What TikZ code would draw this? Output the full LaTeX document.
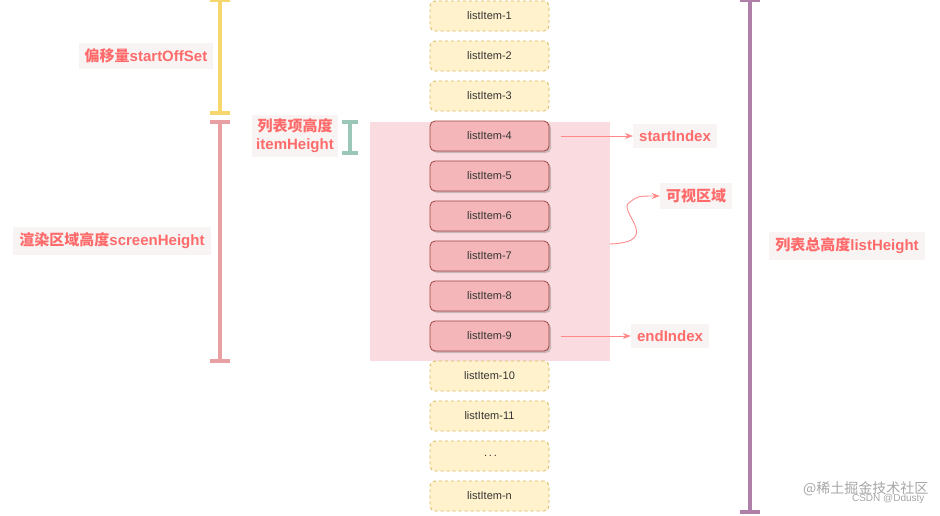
\documentclass[tikz,border=0pt]{standalone}
\usepackage{fontspec}
\setmainfont{Liberation Sans}
\newfontfamily\cjk{Noto Sans CJK SC}
\usetikzlibrary{shadows,arrows.meta}
\definecolor{yf}{HTML}{FFF2CC}\definecolor{ys}{HTML}{D6B656}
\definecolor{rf}{HTML}{F4B6B8}\definecolor{rs}{HTML}{A0443F}
\definecolor{lab}{HTML}{FF6B6B}\definecolor{zone}{HTML}{FADCE0}
\definecolor{lbg}{HTML}{F8F4F4}
\tikzset{x=1pt,y=-1pt,
 item/.style={rounded corners=5pt,minimum width=119pt,minimum height=30pt,font=\fontsize{11}{12}\selectfont,text=black!80,line width=0.8pt},
 yitem/.style={item,fill=yf,draw=ys,dashed},
 ritem/.style={item,fill=rf,draw=rs,drop shadow={shadow xshift=2pt,shadow yshift=-2pt,opacity=0.4}},
 lbl/.style={fill=lbg,text=lab,font=\bfseries\fontsize{15}{18}\selectfont,inner sep=6pt,align=center},
 brk/.style={line width=3.5pt},
 arr/.style={draw=lab!80,-{Stealth[length=8pt]},line width=0.9pt}}
\begin{document}
\begin{tikzpicture}
\useasboundingbox (0,0) rectangle (940,515);
\fill[zone] (370,122) rectangle (610,361);
\foreach \i/\t in {1/listItem-1,2/listItem-2,3/listItem-3,10/listItem-10,11/listItem-11,12/{\,.\,.\,.},13/listItem-n}{
 \node[yitem] (i\i) at (489.5,{16+40*(\i-1)}) {\t};}
\foreach \i in {4,5,6,7,8,9}{\node[ritem] (i\i) at (489.5,{16+40*(\i-1)}) {listItem-\i};}
\foreach \c/\x/\a/\b/\w in {F5D76E/220/0/113/10, E8A0A2/220/122/361/10, 9AC7B8/350/122/153/8, B07FA8/750/0/512/10}{
 \definecolor{bc}{HTML}{\c}
 \draw[brk,draw=bc] (\x,\a) -- (\x,\b);
 \draw[brk,draw=bc] (\x-\w,\a) -- (\x+\w,\a) (\x-\w,\b) -- (\x+\w,\b);}
\node[lbl] (off) at (146,56) {{\cjk 偏移量}startOffSet};
\node[lbl] (scr) at (112,241) {{\cjk 渲染区域高度}screenHeight};
\node[lbl,inner sep=4pt] (ih) at (295,136) {{\cjk 列表项高度}\\itemHeight};
\node[lbl] (si) at (675,136) {startIndex};
\node[lbl] (vz) at (696,196) {\cjk 可视区域};
\node[lbl] (ei) at (670,336) {endIndex};
\node[lbl] (lh) at (847,246) {{\cjk 列表总高度}listHeight};
\coordinate (a1) at (561,136); \coordinate (a2) at (561,336); \coordinate (zc) at (610,244);
\draw[arr] (a1) -- (si.west);
\draw[arr] (a2) -- (ei.west);
\draw[arr] (zc) .. controls (665,242) and (615,210) .. (630,202) .. controls (638,196) .. (vz.west);
\node[text=gray!70,font=\cjk\fontsize{14}{16}\selectfont,anchor=east] (wm) at (932,489) {@稀土掘金技术社区};
\node[text=gray!70,font=\fontsize{10}{11}\selectfont,anchor=east] (wm2) at (928,499) {CSDN @Ddusty};
\end{tikzpicture}
\end{document}
